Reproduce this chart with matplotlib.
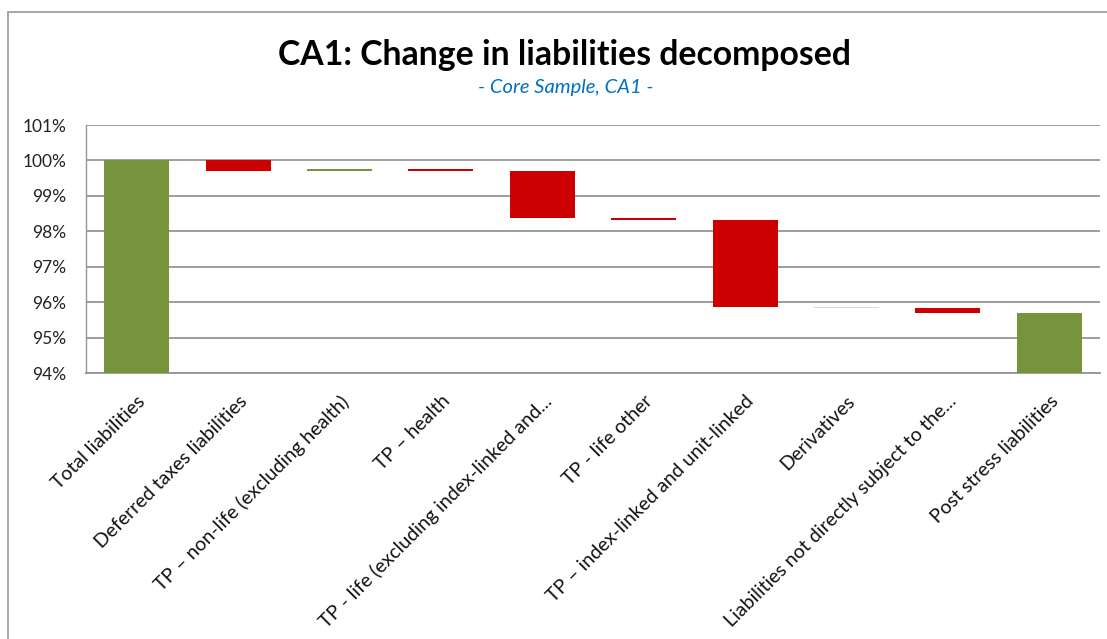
import matplotlib
matplotlib.use("Agg")
import matplotlib.pyplot as plt
from matplotlib.patches import Rectangle
from matplotlib.ticker import FuncFormatter, MultipleLocator

plt.rcParams['font.family'] = ['Lato', 'DejaVu Sans']

categories = [
    "Total liabilities",
    "Deferred taxes liabilities",
    "TP \u2013 non-life (excluding health)",
    "TP \u2013 health",
    "TP - life (excluding index-linked and...",
    "TP - life other",
    "TP \u2013 index-linked and unit-linked",
    "Derivatives",
    "Liabilities not directly subject to the...",
    "Post stress liabilities",
]
start_total = 100.0
changes = [-0.30, 0.05, -0.05, -1.33, -0.05, -2.47, -0.01, -0.14]
axis_min = 94.0

green = "#77933C"
red = "#CC0000"
pale = "#DDD9C3"

# build waterfall
bottoms, heights, colors = [], [], []
bottoms.append(axis_min); heights.append(start_total - axis_min); colors.append(green)
level = start_total
for i, c in enumerate(changes):
    new = level + c
    bottoms.append(min(level, new))
    heights.append(abs(c))
    if categories[i + 1] == "Derivatives":
        colors.append(pale)
    else:
        colors.append(green if c > 0 else red)
    level = new
bottoms.append(axis_min); heights.append(level - axis_min); colors.append(green)

fig = plt.figure(figsize=(11.07, 6.39), dpi=100)
ax = fig.add_axes([86/1107, (639-373)/639, (1100-86)/1107, (373-125)/639])

x = list(range(len(categories)))
ax.bar(x, heights, bottom=bottoms, width=0.64, color=colors, zorder=3, linewidth=0)

ax.set_ylim(94, 101)
ax.set_xlim(-0.5, len(categories) - 0.5)
ax.yaxis.set_major_locator(MultipleLocator(1))
ax.yaxis.set_major_formatter(FuncFormatter(lambda v, p: f"{v:.0f}%"))
ax.grid(axis='y', color='#959595', linewidth=1.3, zorder=0)
for s in ['top', 'right']:
    ax.spines[s].set_visible(False)
ax.spines['left'].set_color('#959595')
ax.spines['bottom'].set_color('#959595')
ax.spines['left'].set_linewidth(1.0)
ax.spines['bottom'].set_linewidth(1.3)
ax.tick_params(axis='y', length=0, pad=14, labelsize=12.5, labelcolor='#222222')
ax.tick_params(axis='x', length=0, pad=14)
ax.set_xticks(x)
ax.set_xticklabels(categories, rotation=45, ha='right', rotation_mode='anchor',
                   fontsize=14, color='#111111')

fig.text(564/1107, 1 - 55/639, "CA1: Change in liabilities decomposed",
         ha='center', va='center', fontsize=24.3, fontweight='bold', color='black')
fig.text(566/1107, 1 - 88/639, "- Core Sample, CA1 -", ha='center', va='center',
         fontsize=14.5, style='italic', color='#0070C0')

fig.add_artist(Rectangle((8/1107, -0.1), 1.2, 1 - 12/639 + 0.1, transform=fig.transFigure,
                         fill=False, edgecolor='#A0A0A0', linewidth=1.3, clip_on=False))

fig.savefig("out.png", dpi=100)
